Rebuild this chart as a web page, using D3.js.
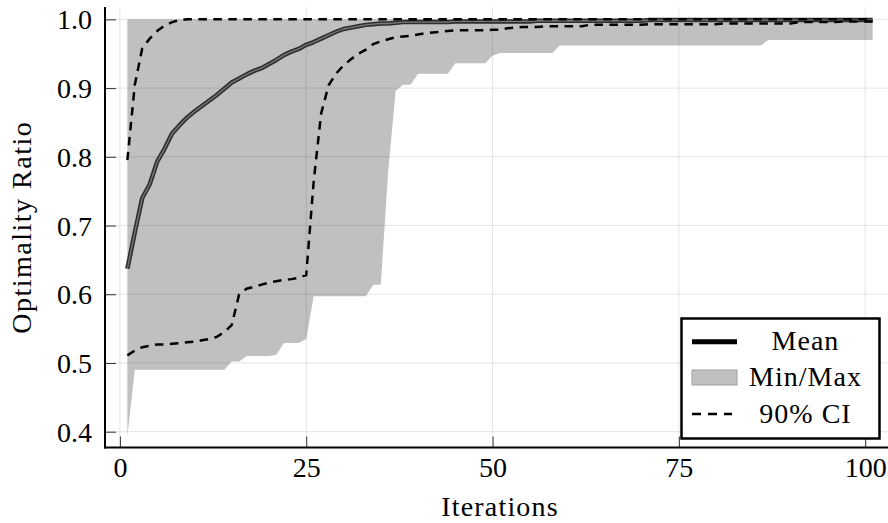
<!DOCTYPE html>
<html>
  <head>
    <meta http-equiv="Content-type" content="text/html; charset=utf-8">
    <title>Optimality Ratio</title>
    <script src="https://d3js.org/d3.v7.min.js"></script>
    <style>
      body { margin: 0; background: #fff; }
      text { font-family: "Liberation Serif", "DejaVu Serif", serif; fill: #000; }
    </style>
  </head>
  <body>
  <div id="chart"></div>
  <script type="text/javascript">
    // values per iteration
    var meanVals = [
      0.637, 0.690, 0.740, 0.760, 0.793, 0.812, 0.834, 0.846, 0.857, 0.866,
      0.874, 0.882, 0.890, 0.899, 0.908, 0.914, 0.920, 0.925, 0.929, 0.935,
      0.941, 0.948, 0.953, 0.957, 0.963, 0.967, 0.972, 0.977, 0.982, 0.986,
      0.988, 0.990, 0.992, 0.993, 0.994, 0.994, 0.995, 0.996, 0.996, 0.996,
      0.996, 0.996, 0.996, 0.996, 0.997, 0.997, 0.997, 0.997, 0.997, 0.997,
      0.997, 0.997, 0.997, 0.997, 0.997, 0.998, 0.998, 0.998, 0.998, 0.998,
      0.998, 0.998, 0.998, 0.998, 0.998, 0.998, 0.998, 0.998, 0.998, 0.998,
      0.999, 0.999, 0.999, 0.999, 0.999, 0.999, 0.999, 0.999, 0.999, 0.999,
      0.999, 0.999, 0.999, 0.999, 0.999, 0.999, 0.999, 0.999, 0.999, 0.999,
      0.999, 0.999, 0.999, 0.999, 0.999, 0.999, 0.999, 0.999, 0.999, 0.999,
      0.999
    ];
    var minVals = [
      0.393, 0.490, 0.490, 0.490, 0.490, 0.490, 0.490, 0.490, 0.490, 0.490,
      0.490, 0.490, 0.490, 0.490, 0.502, 0.502, 0.510, 0.510, 0.510, 0.510,
      0.512, 0.529, 0.529, 0.529, 0.535, 0.597, 0.597, 0.597, 0.597, 0.597,
      0.597, 0.597, 0.597, 0.614, 0.614, 0.779, 0.896, 0.905, 0.905, 0.921,
      0.921, 0.921, 0.921, 0.921, 0.936, 0.936, 0.936, 0.936, 0.936, 0.947,
      0.951, 0.951, 0.951, 0.951, 0.951, 0.951, 0.951, 0.951, 0.962, 0.962,
      0.962, 0.962, 0.962, 0.962, 0.962, 0.962, 0.962, 0.962, 0.962, 0.962,
      0.962, 0.962, 0.962, 0.962, 0.962, 0.962, 0.962, 0.962, 0.962, 0.962,
      0.962, 0.962, 0.962, 0.962, 0.962, 0.962, 0.970, 0.970, 0.970, 0.970,
      0.970, 0.970, 0.970, 0.970, 0.970, 0.970, 0.970, 0.970, 0.970, 0.970,
      0.970
    ];
    var maxVals = [
      1.000, 1.000, 1.000, 1.000, 1.000, 1.000, 1.000, 1.000, 1.000, 1.000,
      1.000, 1.000, 1.000, 1.000, 1.000, 1.000, 1.000, 1.000, 1.000, 1.000,
      1.000, 1.000, 1.000, 1.000, 1.000, 1.000, 1.000, 1.000, 1.000, 1.000,
      1.000, 1.000, 1.000, 1.000, 1.000, 1.000, 1.000, 1.000, 1.000, 1.000,
      1.000, 1.000, 1.000, 1.000, 1.000, 1.000, 1.000, 1.000, 1.000, 1.000,
      1.000, 1.000, 1.000, 1.000, 1.000, 1.000, 1.000, 1.000, 1.000, 1.000,
      1.000, 1.000, 1.000, 1.000, 1.000, 1.000, 1.000, 1.000, 1.000, 1.000,
      1.000, 1.000, 1.000, 1.000, 1.000, 1.000, 1.000, 1.000, 1.000, 1.000,
      1.000, 1.000, 1.000, 1.000, 1.000, 1.000, 1.000, 1.000, 1.000, 1.000,
      1.000, 1.000, 1.000, 1.000, 1.000, 1.000, 1.000, 1.000, 1.000, 1.000,
      1.000
    ];
    var ciLow = [
      0.511, 0.518, 0.523, 0.525, 0.527, 0.527, 0.528, 0.529, 0.530, 0.531,
      0.533, 0.535, 0.538, 0.545, 0.555, 0.600, 0.608, 0.611, 0.614, 0.617,
      0.619, 0.621, 0.622, 0.624, 0.628, 0.764, 0.863, 0.904, 0.921, 0.933,
      0.942, 0.950, 0.956, 0.964, 0.968, 0.971, 0.974, 0.975, 0.976, 0.978,
      0.980, 0.981, 0.982, 0.983, 0.984, 0.984, 0.984, 0.984, 0.984, 0.985,
      0.985, 0.987, 0.988, 0.989, 0.989, 0.989, 0.990, 0.990, 0.990, 0.990,
      0.990, 0.990, 0.992, 0.992, 0.992, 0.992, 0.992, 0.992, 0.992, 0.992,
      0.993, 0.993, 0.993, 0.993, 0.993, 0.993, 0.993, 0.993, 0.993, 0.993,
      0.994, 0.994, 0.994, 0.994, 0.994, 0.994, 0.994, 0.994, 0.994, 0.994,
      0.996, 0.996, 0.996, 0.996, 0.996, 0.996, 0.997, 0.997, 0.997, 0.997,
      0.997
    ];
    var ciHigh = [
      0.795, 0.905, 0.958, 0.972, 0.983, 0.991, 0.996, 0.999, 1.000, 1.000,
      1.000, 1.000, 1.000, 1.000, 1.000, 1.000, 1.000, 1.000, 1.000, 1.000,
      1.000, 1.000, 1.000, 1.000, 1.000, 1.000, 1.000, 1.000, 1.000, 1.000,
      1.000, 1.000, 1.000, 1.000, 1.000, 1.000, 1.000, 1.000, 1.000, 1.000,
      1.000, 1.000, 1.000, 1.000, 1.000, 1.000, 1.000, 1.000, 1.000, 1.000,
      1.000, 1.000, 1.000, 1.000, 1.000, 1.000, 1.000, 1.000, 1.000, 1.000,
      1.000, 1.000, 1.000, 1.000, 1.000, 1.000, 1.000, 1.000, 1.000, 1.000,
      1.000, 1.000, 1.000, 1.000, 1.000, 1.000, 1.000, 1.000, 1.000, 1.000,
      1.000, 1.000, 1.000, 1.000, 1.000, 1.000, 1.000, 1.000, 1.000, 1.000,
      1.000, 1.000, 1.000, 1.000, 1.000, 1.000, 1.000, 1.000, 1.000, 1.000,
      1.000
    ];
    var iterations = d3.range(1, meanVals.length + 1);
    var xTicks = [0, 25, 50, 75, 100];
    var yTicks = [0.4, 0.5, 0.6, 0.7, 0.8, 0.9, 1.0];
    var legendLabels = ['Mean', 'Min/Max', '90% CI'];

    (function(d3) {
      'use strict';

      var width = 888;
      var height = 523;
      var left = 105, right = 895, top = 7, bottom = 447.5;

      var svg = d3.select('#chart')
        .append('svg')
        .attr('width', width)
        .attr('height', height);

      var x = d3.scaleLinear().domain([-2, 104]).range([left, right]);
      var y = d3.scaleLinear().domain([0.377, 1.018]).range([bottom, top]);

      var rows = iterations.map(function(it, i) {
        return { it: it, mean: meanVals[i], lo: minVals[i], hi: maxVals[i],
                 cl: ciLow[i], ch: ciHigh[i] };
      });

      // min/max band
      var band = d3.area()
        .x(function(d) { return x(d.it); })
        .y0(function(d) { return y(d.lo); })
        .y1(function(d) { return y(d.hi); });
      svg.append('path')
        .datum(rows)
        .attr('d', band)
        .attr('fill', '#c0c0c0');

      // grid
      var grid = svg.append('g')
        .attr('stroke', '#000')
        .attr('stroke-opacity', 0.1)
        .attr('stroke-width', 1);
      grid.selectAll('.gx').data(xTicks).enter().append('line')
        .attr('x1', function(d) { return x(d); })
        .attr('x2', function(d) { return x(d); })
        .attr('y1', top).attr('y2', bottom);
      grid.selectAll('.gy').data(yTicks).enter().append('line')
        .attr('x1', left).attr('x2', width)
        .attr('y1', function(d) { return y(d); })
        .attr('y2', function(d) { return y(d); });

      // mean: dark outline, lighter core
      var meanLine = d3.line()
        .x(function(d) { return x(d.it); })
        .y(function(d) { return y(d.mean); });
      svg.append('path').datum(rows)
        .attr('d', meanLine)
        .attr('fill', 'none')
        .attr('stroke', '#2e2e2e')
        .attr('stroke-width', 4.5)
        .attr('stroke-linejoin', 'round');
      svg.append('path').datum(rows)
        .attr('d', meanLine)
        .attr('fill', 'none')
        .attr('stroke', '#7a7a7a')
        .attr('stroke-width', 1.3)
        .attr('stroke-linejoin', 'round');

      // confidence interval
      ['cl', 'ch'].forEach(function(k) {
        var ln = d3.line()
          .x(function(d) { return x(d.it); })
          .y(function(d) { return y(d[k]); });
        svg.append('path').datum(rows)
          .attr('d', ln)
          .attr('fill', 'none')
          .attr('stroke', '#000')
          .attr('stroke-width', 2.5)
          .attr('stroke-dasharray', '8.5,6.5');
      });

      // axes
      var xAxis = d3.axisBottom(x).tickValues(xTicks)
        .tickSize(-11).tickSizeOuter(0).tickPadding(10)
        .tickFormat(d3.format('d'));
      var yAxis = d3.axisLeft(y).tickValues(yTicks)
        .tickSize(-11).tickSizeOuter(0).tickPadding(13)
        .tickFormat(d3.format('.1f'));

      var gx = svg.append('g')
        .attr('transform', 'translate(0,' + bottom + ')')
        .call(xAxis);
      gx.select('.domain').remove();
      gx.append('line')
        .attr('x1', left - 1).attr('x2', width)
        .attr('stroke', '#000').attr('stroke-width', 2);

      var gy = svg.append('g')
        .attr('transform', 'translate(' + left + ',0)')
        .call(yAxis);
      gy.select('.domain').remove();
      gy.append('line')
        .attr('y1', top).attr('y2', bottom + 1)
        .attr('stroke', '#000').attr('stroke-width', 2);

      [gx, gy].forEach(function(g) {
        g.selectAll('.tick line').attr('stroke', '#333').attr('stroke-width', 1);
        g.selectAll('.tick text')
          .attr('font-family', '"Liberation Serif", serif')
          .attr('font-size', 28)
          .attr('fill', '#000');
      });
      gy.selectAll('.tick text').attr('dy', '0.34em');

      // axis titles
      svg.append('text')
        .attr('x', (left + right) / 2)
        .attr('y', 516)
        .attr('text-anchor', 'middle')
        .attr('font-size', 28)
        .attr('letter-spacing', 1.2)
        .text('Iterations');
      svg.append('text')
        .attr('transform', 'translate(31,' + ((top + bottom) / 2) + ') rotate(-90)')
        .attr('text-anchor', 'middle')
        .attr('font-size', 28)
        .attr('letter-spacing', 1.5)
        .text('Optimality Ratio');

      // legend
      var lg = svg.append('g');
      lg.append('rect')
        .attr('x', 681.5).attr('y', 318.5)
        .attr('width', 198).attr('height', 120)
        .attr('fill', '#fff')
        .attr('stroke', '#000')
        .attr('stroke-width', 2.5);
      lg.append('line')
        .attr('x1', 692).attr('x2', 737)
        .attr('y1', 341.7).attr('y2', 341.7)
        .attr('stroke', '#000').attr('stroke-width', 5);
      lg.append('rect')
        .attr('x', 692).attr('y', 370)
        .attr('width', 45).attr('height', 15)
        .attr('fill', '#c0c0c0')
        .attr('stroke', '#a0a0a0').attr('stroke-width', 1);
      lg.append('line')
        .attr('x1', 692).attr('x2', 732)
        .attr('y1', 414).attr('y2', 414)
        .attr('stroke', '#000').attr('stroke-width', 2.5)
        .attr('stroke-dasharray', '9,7');
      var baselines = [349.5, 386, 423];
      lg.selectAll('text.lbl').data(legendLabels).enter().append('text')
        .attr('class', 'lbl')
        .attr('x', 805.5)
        .attr('y', function(d, i) { return baselines[i]; })
        .attr('text-anchor', 'middle')
        .attr('font-size', 28)
        .attr('letter-spacing', 1)
        .text(function(d) { return d; });
    })(window.d3);
  </script>
  </body>
</html>
